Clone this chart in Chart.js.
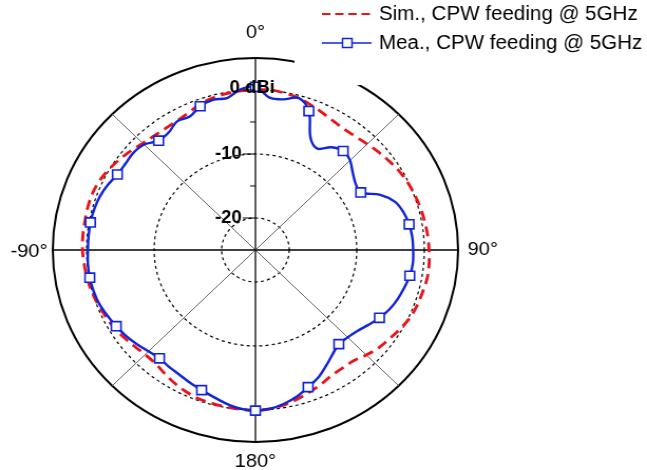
<!DOCTYPE html>
<html>
<head>
<meta charset="utf-8">
<script src="https://cdn.jsdelivr.net/npm/chart.js@4"></script>
<style>
  html, body { margin: 0; padding: 0; background: #fff; overflow: hidden; }
  /* the plot is drawn slightly narrower and widened on screen */
  #wrap { width: 613px; height: 470px; transform: scaleX(1.0555); transform-origin: 0 0; }
</style>
</head>
<body>
<div id="wrap"><canvas id="c" width="613" height="470"></canvas></div>
<script>
// Azimuth angles (degrees, clockwise from top)
const angleDeg = [
  0, 5, 10, 15, 20, 25, 30, 35, 40, 45, 50, 55,
  60, 65, 70, 75, 80, 85, 90, 95, 100, 105, 110, 115,
  120, 125, 130, 135, 140, 145, 150, 155, 160, 165, 170, 175,
  180, 185, 190, 195, 200, 205, 210, 215, 220, 225, 230, 235,
  240, 245, 250, 255, 260, 265, 270, 275, 280, 285, 290, 295,
  300, 305, 310, 315, 320, 325, 330, 335, 340, 345, 350, 355
];

// Simulated gain, CPW feeding @ 5 GHz (dBi)
const simGain = [
  0.0, 0.1, -0.1, -0.4, -0.9, -1.4, -1.8, -2.0, -1.9, -1.6, -1.2, -0.8,
  -0.4, -0.1, 0.1, 0.3, 0.45, 0.6, 0.7, 0.8, 0.8, 0.6, 0.45, 0.2,
  -0.3, -0.8, -1.2, -1.8, -2.4, -2.5, -2.4, -1.9, -1.4, -0.9, -0.4, -0.1,
  0.0, 0.0, -0.1, -0.2, -0.3, -0.6, -1.0, -1.5, -1.9, -1.9, -1.6, -1.2,
  -0.8, -0.5, -0.2, 0.1, 0.3, 0.45, 0.6, 0.65, 0.65, 0.7, 0.7, 0.5,
  0.1, -0.4, -0.9, -1.4, -1.7, -1.8, -1.7, -1.4, -0.8, -0.4, -0.2, -0.05
];

// Measured gain, CPW feeding @ 5 GHz (dBi)
const meaGain = [
  0.5, -1.1, -1.1, -0.4, -1.9, -5.7, -6.7, -5.4, -4.8, -5.2, -6.2, -6.9,
  -7.0, -4.6, -3.0, -2.3, -1.9, -1.7, -1.65, -1.6, -1.8, -2.2, -2.6, -3.1,
  -3.8, -4.6, -5.3, -5.7, -5.8, -5.1, -4.1, -3.0, -2.2, -1.3, -0.6, -0.1,
  0.1, -0.1, -0.6, -1.2, -1.7, -2.1, -2.5, -2.7, -2.9, -2.6, -2.1, -1.6,
  -1.2, -0.8, -0.4, -0.2, -0.1, -0.1, -0.2, -0.2, -0.2, -0.3, -0.5, -0.9,
  -1.4, -1.5, -1.4, -1.7, -2.7, -2.6, -1.8, -2.0, -1.1, -0.7, -0.9, 0.2
];

// Radial axis labels
const radialTicks = [0, -10, -20];
const radialTickText = ['0 dBi', '-10', '-20'];
const radialMinorTicks = [-5, -15];

// Angular axis labels
const angleLabelDeg = [0, 90, 180, 270];
const angleLabelText = ['0°', '90°', '180°', '-90°'];

const seriesNames = ['Sim., CPW feeding @ 5GHz', 'Mea., CPW feeding @ 5GHz'];

const RED = '#e8141a';
const BLUE = '#1024d8';
const FONT = "'Liberation Sans', Arial, sans-serif";

const decor = {
  id: 'polarDecor',
  beforeDatasetsDraw(chart) {
    // white legend panel in the top-right corner
    const ctx = chart.ctx;
    ctx.save();
    ctx.fillStyle = '#fff';
    ctx.fillRect(279, 0, chart.width - 279, 85);
    ctx.restore();
  },
  afterDatasetsDraw(chart) {
    const ctx = chart.ctx;
    const s = chart.scales.r;
    const cx = s.xCenter, cy = s.yCenter;
    ctx.save();
    // tick marks on the radial axis
    ctx.strokeStyle = '#000';
    ctx.lineWidth = 1.2;
    ctx.beginPath();
    radialTicks.forEach(v => {
      const y = cy - s.getDistanceFromCenterForValue(v);
      ctx.moveTo(cx - 12, y); ctx.lineTo(cx, y);
    });
    radialMinorTicks.forEach(v => {
      const y = cy - s.getDistanceFromCenterForValue(v);
      ctx.moveTo(cx - 5, y); ctx.lineTo(cx, y);
    });
    ctx.stroke();

    // radial tick labels
    ctx.fillStyle = '#000';
    ctx.font = 'bold 17.5px ' + FONT;
    ctx.textBaseline = 'middle';
    radialTicks.forEach((v, i) => {
      const y = cy - s.getDistanceFromCenterForValue(v);
      if (v === 0) {
        ctx.textAlign = 'center';
        ctx.fillText(radialTickText[i], cx - 3, y - 2);
      } else {
        ctx.textAlign = 'right';
        ctx.fillText(radialTickText[i], cx - 13, y);
      }
    });

    // angular labels
    ctx.font = '19px ' + FONT;
    const outer = s.getDistanceFromCenterForValue(s.max);
    angleLabelDeg.forEach((a, i) => {
      const idx = angleDeg.indexOf(a);
      let dist, align;
      if (a === 0) { dist = outer + 25; align = 'center'; }
      else if (a === 180) { dist = outer + 20; align = 'center'; }
      else if (a === 90) { dist = outer + 9; align = 'left'; }
      else { dist = outer + 5; align = 'right'; }
      const p = s.getPointPosition(idx, dist);
      ctx.textAlign = align;
      ctx.fillText(angleLabelText[i], p.x, p.y + (a === 270 ? 2 : 0));
    });
    ctx.restore();
  },
  afterDraw(chart) {
    // legend
    const ctx = chart.ctx;
    const ds = chart.data.datasets;
    const rows = [14, 43];
    ctx.save();
    ds.forEach((d, i) => {
      const y = rows[i];
      ctx.strokeStyle = d.borderColor;
      ctx.lineWidth = i === 0 ? 2 : 1.6;
      ctx.setLineDash(i === 0 ? [8, 4.5] : []);
      ctx.beginPath();
      ctx.moveTo(305, y); ctx.lineTo(352, y);
      ctx.stroke();
      ctx.setLineDash([]);
      if (i === 1) {
        ctx.fillStyle = '#fff';
        ctx.lineWidth = 1.5;
        ctx.beginPath();
        ctx.rect(329 - 4.5, y - 4.5, 9, 9);
        ctx.fill(); ctx.stroke();
      }
      ctx.fillStyle = '#000';
      ctx.font = '19.5px ' + FONT;
      ctx.textAlign = 'left';
      ctx.textBaseline = 'middle';
      ctx.fillText(seriesNames[i], 359, y + 1);
    });
    ctx.restore();
  }
};

new Chart(document.getElementById('c'), {
  type: 'radar',
  data: {
    labels: angleDeg,
    datasets: [
      {
        label: seriesNames[0],
        data: simGain,
        borderColor: RED,
        borderWidth: 2.8,
        borderDash: [10, 6],
        pointRadius: 0,
        fill: false,
        tension: 0.35,
        order: 1
      },
      {
        label: seriesNames[1],
        data: meaGain,
        borderColor: BLUE,
        borderWidth: 2.4,
        pointStyle: 'rect',
        pointRadius: (c) => (c.index % 4 === 0 ? 6.4 : 0),
        pointBackgroundColor: '#fff',
        pointBorderColor: BLUE,
        pointBorderWidth: 1.6,
        fill: false,
        tension: 0.35,
        order: 0
      }
    ]
  },
  options: {
    responsive: false,
    animation: false,
    events: [],
    layout: { padding: { left: 50, right: 179, top: 58, bottom: 28 } },
    plugins: { legend: { display: false }, tooltip: { enabled: false } },
    scales: {
      r: {
        min: -25,
        max: 5,
        startAngle: 0,
        ticks: { display: false, stepSize: 5 },
        pointLabels: { display: false },
        grid: {
          circular: true,
          color: (c) => ([5, 0, -10, -20].includes(c.tick.value) ? '#000' : 'rgba(0,0,0,0)'),
          lineWidth: (c) => (c.tick.value === 5 ? 2 : 1.2)
        },
        border: {
          dash: (c) => (c.tick && c.tick.value === 5 ? [] : [3, 3])
        },
        angleLines: {
          color: (c) => (c.index % 18 === 0 ? '#000' : '#666'),
          lineWidth: (c) => (c.index % 9 !== 0 ? 0 : (c.index % 18 === 0 ? 1.3 : 1))
        }
      }
    }
  },
  plugins: [decor]
});
</script>
</body>
</html>
